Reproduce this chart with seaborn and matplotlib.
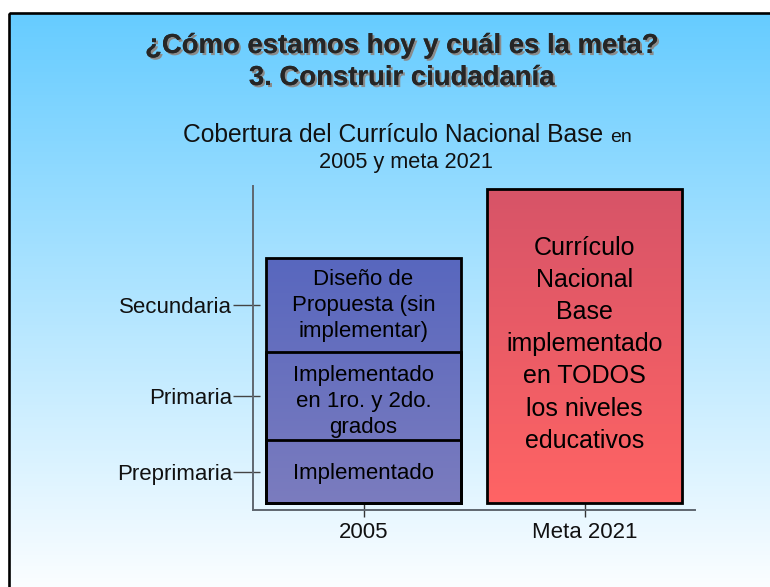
import numpy as np
import pandas as pd
import seaborn as sns
import matplotlib
matplotlib.use("Agg")
import matplotlib.pyplot as plt
from matplotlib import patheffects as pe
from matplotlib.colors import LinearSegmentedColormap
from matplotlib.patches import Rectangle

# ---------------- data ----------------
periods = ["2005", "Meta 2021"]
levels = ["Preprimaria", "Primaria", "Secundaria"]
heights_2005 = [2.0, 2.8, 3.0]
meta_height = 10.0
seg_texts_2005 = ["Implementado",
                  "Implementado\nen 1ro. y 2do.\ngrados",
                  "Diseño de\nPropuesta (sin\nimplementar)"]
meta_text = "Currículo\nNacional\nBase\nimplementado\nen TODOS\nlos niveles\neducativos"
title_lines = ["¿Cómo estamos hoy y cuál es la meta?", "3. Construir ciudadanía"]
subtitle_main = "Cobertura del Currículo Nacional Base"
subtitle_small = "en"
subtitle_line2 = "2005 y meta 2021"

W, H = 770, 587
sns.set_theme(style="white")
plt.rcParams["font.family"] = ["Liberation Sans", "DejaVu Sans"]

fig = plt.figure(figsize=(W / 100, H / 100), dpi=100)

# ---------------- background (slide) ----------------
bg = fig.add_axes([0, 0, 1, 1], zorder=0)
bg.axis("off")
grad = np.linspace(0, 1, 256).reshape(-1, 1)
bg_cmap = LinearSegmentedColormap.from_list("bg", ["#66CCFF", "#FFFFFF"])
bg.imshow(grad, cmap=bg_cmap, extent=(9, W + 5, H + 15, 13), aspect="auto", zorder=0)
bg.add_patch(Rectangle((9, 13), W + 20, H + 20, fill=False, edgecolor="black", lw=1.9, zorder=2))
bg.set_xlim(0, W)
bg.set_ylim(H, 0)

# ---------------- titles ----------------
shadow = [pe.withSimplePatchShadow(offset=(1.5, -1.5), shadow_rgbFace="#8a8a8a", alpha=1.0), pe.Normal()]
fig.text(402 / W, 1 - 53 / H, title_lines[0], ha="center", va="baseline", fontsize=19.8,
         fontweight="bold", path_effects=shadow, zorder=5)
fig.text(402 / W, 1 - 85 / H, title_lines[1], ha="center", va="baseline", fontsize=19.8,
         fontweight="bold", path_effects=shadow, zorder=5)

fig.text(603 / W, 1 - 142 / H, subtitle_main, ha="right", va="baseline", fontsize=17.7, color="#111111", zorder=5)
fig.text(610 / W, 1 - 142 / H, subtitle_small, ha="left", va="baseline", fontsize=14, color="#111111", zorder=5)
fig.text(406 / W, 1 - 168 / H, subtitle_line2, ha="center", va="baseline", fontsize=15.7, color="#111111", zorder=5)

# ---------------- main chart ----------------
ax = fig.add_axes([253 / W, 1 - 510 / H, (695 - 253) / W, (510 - 186) / H], zorder=1)
ax.patch.set_alpha(0)

cum_2005 = np.cumsum(heights_2005)
layers = [pd.DataFrame({"period": ["Meta 2021"], "top": [meta_height]})]
for top in cum_2005[::-1]:
    layers.append(pd.DataFrame({"period": ["2005"], "top": [top]}))

bar_width = 195 / 221
for df in layers:
    sns.barplot(data=df, x="period", y="top", order=periods, ax=ax, width=bar_width,
                facecolor="none", edgecolor="black", linewidth=2.0, zorder=3)

col_tops = {0: cum_2005[-1], 1: meta_height}
col_cmaps = {0: LinearSegmentedColormap.from_list("blue", ["#7B7CBE", "#5867BF"]),
             1: LinearSegmentedColormap.from_list("red", ["#FF6464", "#D75468"])}
done = set()
for patch in sorted(ax.patches, key=lambda p: -p.get_height()):
    x0, w, h = patch.get_x(), patch.get_width(), patch.get_height()
    col = int(round(x0 + w / 2))
    if col in done:
        continue
    done.add(col)
    img = ax.imshow(np.linspace(0, 1, 256).reshape(-1, 1), cmap=col_cmaps[col], origin="lower",
                    extent=(x0, x0 + w, 0, col_tops[col]), aspect="auto", zorder=2)
    img.set_clip_path(patch)

ax.set_xlim(-0.5, 1.5)
ax.set_ylim(-0.22, 10.1)

# segment labels (small vertical nudges in points)
bottoms = np.concatenate([[0], cum_2005[:-1]])
centers = bottoms + np.array(heights_2005) / 2
nudges_pt = [-1.5, -3.6, 0.0]
for c, txt, dy in zip(centers, seg_texts_2005, nudges_pt):
    ax.annotate(txt, (0, c), xytext=(0, dy), textcoords="offset points", ha="center", va="center",
                fontsize=16, linespacing=1.3, color="black", zorder=4)
ax.annotate(meta_text, (1, meta_height / 2 + 0.11), xytext=(0, -1.2), textcoords="offset points",
            ha="center", va="center", fontsize=18, linespacing=1.43, color="black", zorder=4)

# axes styling
for s in ["top", "right"]:
    ax.spines[s].set_visible(False)
for s in ["left", "bottom"]:
    ax.spines[s].set_color("#5f6770")
    ax.spines[s].set_linewidth(1.4)

ax.set_yticks(centers)
ax.set_yticklabels(levels)
ax.yaxis.remove_overlapping_locs = False
ax.set_yticks(centers, minor=True)
ax.tick_params(axis="y", which="major", direction="out", length=14.4, width=1.0, color="#444444",
               labelsize=16, pad=0.5, left=True, labelcolor="#111111")
ax.tick_params(axis="y", which="minor", direction="in", length=5, width=1.0, color="#444444", left=True)
ax.tick_params(axis="x", which="major", direction="inout", length=10, width=1.0, color="#333333",
               labelsize=16, pad=4, bottom=True, labelcolor="#111111")
ax.set_xlabel("")
ax.set_ylabel("")

fig.savefig("out.png", dpi=100)
